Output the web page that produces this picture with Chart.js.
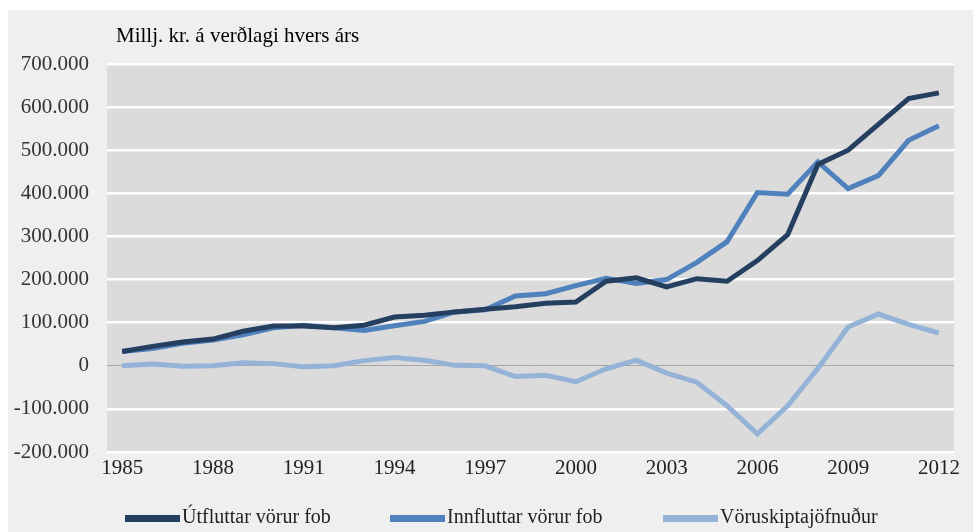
<!DOCTYPE html>
<html lang="is">
<head>
  <meta charset="UTF-8">
  <title>Vöruskipti</title>
  <script src="https://cdn.jsdelivr.net/npm/chart.js"></script>
  <style>
    * { box-sizing: border-box; }
    body { margin: 0; padding: 0; background: #ffffff; }
    .wrap { width: 979px; height: 532px; position: relative; }
  </style>
</head>
<body>
  <div class="wrap"><canvas id="graf" width="979" height="532"></canvas></div>

  <script>
    const ar = [];
    for (let y = 1985; y <= 2012; y++) ar.push(String(y));

    const utflutt = [33000, 45000, 55000, 62000, 80000, 92000, 92000, 88000, 94000, 113000,
      117000, 125000, 131000, 137000, 145000, 148000, 196000, 204000, 183000, 202000,
      196000, 244000, 304000, 467000, 500000, 560000, 620000, 633000];
    const innflutt = [33000, 40000, 52000, 60000, 72000, 88000, 94000, 88000, 82000, 93000,
      103000, 125000, 130000, 162000, 167000, 186000, 203000, 191000, 200000, 240000,
      288000, 402000, 398000, 473000, 411000, 441000, 523000, 557000];
    const jofnudur = [0, 4000, -1000, 0, 7000, 5000, -2000, 0, 12000, 19000,
      13000, 1000, 0, -25000, -22000, -37000, -7000, 13000, -17000, -38000,
      -93000, -158000, -93000, -6000, 90000, 120000, 96000, 76000];

    const heiti = ['Útfluttar vörur fob', 'Innfluttar vörur fob', 'Vöruskiptajöfnuður'];
    const litir = ['#243f60', '#4f81bd', '#95b3d7'];
    const yTitill = 'Millj. kr. á verðlagi hvers árs';

    const letur = "'Liberation Serif', 'Times New Roman', serif";

    function fmt(v) {
      const s = Math.abs(v).toString().replace(/\B(?=(\d{3})+(?!\d))/g, '.');
      return (v < 0 ? '-' : '') + s;
    }

    // bakgrunnur, titill og skýringar
    const skraut = {
      id: 'skraut',
      beforeDraw(chart) {
        const c = chart.ctx, a = chart.chartArea;
        c.save();
        c.fillStyle = '#efefef';
        c.fillRect(8, 10, 965, 522);
        c.fillStyle = '#dbdbdb';
        c.fillRect(a.left, a.top, a.right - a.left, a.bottom - a.top);
        c.restore();
      },
      afterDraw(chart) {
        const c = chart.ctx;
        c.save();
        c.fillStyle = '#000';
        c.font = '21px ' + letur;
        c.textBaseline = 'middle';
        c.fillText(yTitill, 116, 36);
        const xs = [125, 390, 663];
        chart.data.datasets.forEach((d, i) => {
          c.fillStyle = d.borderColor;
          c.fillRect(xs[i], 515, 55, 7);
          c.fillStyle = '#222';
          c.font = '20px ' + letur;
          c.fillText(d.label, xs[i] + 57, 518);
        });
        c.restore();
      }
    };

    new Chart(document.getElementById('graf'), {
      type: 'line',
      data: {
        labels: ar,
        datasets: [
          { label: heiti[0], data: utflutt, borderColor: litir[0], backgroundColor: litir[0] },
          { label: heiti[1], data: innflutt, borderColor: litir[1], backgroundColor: litir[1] },
          { label: heiti[2], data: jofnudur, borderColor: litir[2], backgroundColor: litir[2] }
        ]
      },
      options: {
        responsive: false,
        animation: false,
        layout: { padding: { left: 8, top: 64, right: 25, bottom: 50 } },
        elements: {
          line: { borderWidth: 5, tension: 0, borderCapStyle: 'butt', borderJoinStyle: 'miter' },
          point: { radius: 0 }
        },
        plugins: {
          legend: { display: false },
          tooltip: { enabled: false }
        },
        scales: {
          x: {
            offset: true,
            grid: { display: false, drawTicks: false },
            border: { display: false },
            afterFit(s) { s.height = 30; },
            ticks: {
              autoSkip: false,
              maxRotation: 0,
              padding: 4,
              color: '#222',
              font: { family: letur, size: 21 },
              callback(v, i) { return i % 3 === 0 ? ar[i] : null; }
            }
          },
          y: {
            min: -200000,
            max: 700000,
            afterFit(s) { s.width = 99; },
            border: { display: false },
            grid: {
              drawTicks: false,
              color: c => c.tick.value === 0 ? '#a6a6a6' : '#ffffff',
              lineWidth: c => c.tick.value === 0 ? 1 : 2.5
            },
            ticks: {
              stepSize: 100000,
              padding: 18,
              color: '#333',
              font: { family: letur, size: 21 },
              callback: v => fmt(v)
            }
          }
        }
      },
      plugins: [skraut]
    });
  </script>
</body>
</html>
